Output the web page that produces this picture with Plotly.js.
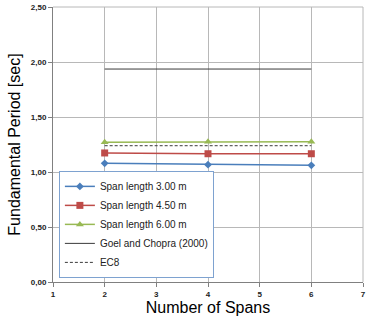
<!DOCTYPE html>
<html><head><meta charset="utf-8">
<script src="https://cdn.plot.ly/plotly-3.0.1.min.js"></script>
<style>html,body{margin:0;padding:0;background:#fff}</style>
</head><body><div id="chart" style="width:369px;height:318px"></div>
<script>
const spans = [2, 4, 6];
const span300 = [1.079, 1.067, 1.061];
const span450 = [1.173, 1.166, 1.166];
const span600 = [1.270, 1.275, 1.275];
const goelChopra = [1.936, 1.936, 1.936];
const ec8 = [1.239, 1.239, 1.239];
const names = ['Span length 3.00 m','Span length 4.50 m','Span length 6.00 m','Goel and Chopra (2000)','EC8'];
const xTicks = [1,2,3,4,5,6,7];

const traces = [
  {x: spans, y: span300, name: names[0], mode: 'lines+markers',
   line: {color: '#4a7ebb', width: 1.5}, marker: {symbol: 'diamond', size: 6, color: '#4a7ebb'}},
  {x: spans, y: span450, name: names[1], mode: 'lines+markers',
   line: {color: '#be4b48', width: 1.5}, marker: {symbol: 'square', size: 7, color: '#be4b48'}},
  {x: spans, y: span600, name: names[2], mode: 'lines+markers',
   line: {color: '#98b954', width: 1.5}, marker: {symbol: 'triangle-up', size: 7, color: '#98b954'}},
  {x: spans, y: goelChopra, name: names[3], mode: 'lines',
   line: {color: '#3a3a3a', width: 1}},
  {x: spans, y: ec8, name: names[4], mode: 'lines',
   line: {color: '#3a3a3a', width: 1, dash: '3px,2px'}}
];

const tickFont = {size: 8, family: 'Liberation Sans, Arial, sans-serif', weight: 'bold', color: '#222'};

const layout = {
  width: 369, height: 318,
  margin: {l: 53, r: 6, t: 7, b: 36},
  separators: ',.',
  paper_bgcolor: '#fff', plot_bgcolor: '#fff',
  font: {family: 'Liberation Sans, Arial, sans-serif', color: '#000'},
  showlegend: true,
  legend: {
    x: 0.019, y: 0.015, xanchor: 'left', yanchor: 'bottom',
    bgcolor: '#fff', bordercolor: '#7ea2d0', borderwidth: 1,
    font: {size: 10, family: 'Liberation Sans, Arial, sans-serif', color: '#222'},
    tracegroupgap: 0, itemwidth: 30
  },
  xaxis: {
    range: [1, 7], tickvals: xTicks, ticktext: xTicks.map(String),
    showgrid: true, gridcolor: '#b8b8b8', gridwidth: 1,
    showline: true, linecolor: '#808080', linewidth: 1,
    ticks: 'outside', ticklen: 4, tickcolor: '#808080',
    tickfont: tickFont,
    zeroline: false, mirror: false,
    title: {text: 'Number of Spans', font: {size: 16}, standoff: 4}
  },
  yaxis: {
    range: [0, 2.5], dtick: 0.5, tickformat: '.2f',
    showgrid: true, gridcolor: '#b8b8b8', gridwidth: 1,
    showline: true, linecolor: '#808080', linewidth: 1,
    ticks: 'outside', ticklen: 4, tickcolor: '#808080',
    tickfont: tickFont,
    zeroline: false,
    title: {text: 'Fundamental Period [sec]', font: {size: 16}, standoff: 6}
  },
  shapes: [
    {type: 'line', xref: 'paper', yref: 'paper', x0: 1, x1: 1, y0: 0, y1: 1, line: {color: '#b8b8b8', width: 1}},
    {type: 'line', xref: 'paper', yref: 'paper', x0: 0, x1: 1, y0: 1, y1: 1, line: {color: '#b8b8b8', width: 1}}
  ]
};

Plotly.newPlot('chart', traces, layout, {displayModeBar: false, staticPlot: true});
</script></body></html>
